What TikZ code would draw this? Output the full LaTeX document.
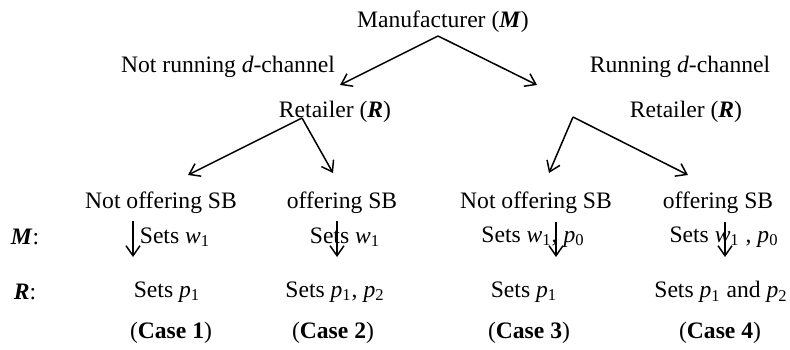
\documentclass[tikz,border=0pt]{standalone}
\usepackage{fontspec}
\setmainfont{Liberation Serif}
\usetikzlibrary{arrows.meta,positioning,calc}
\definecolor{dark}{HTML}{000000}
\newcommand{\vsub}[2]{\textit{#1}\textsubscript{#2}}
\newcommand{\bi}[1]{\textbf{\textit{#1}}}
\tikzset{
  lbl/.style={inner sep=0pt, font=\fontsize{11.8pt}{14pt}\selectfont, text=dark},
  arrow/.style={-{Straight Barb[length=5pt,width=7pt,line width=0.75pt]}, line width=0.75pt, draw=dark}
}

\begin{document}
\begin{tikzpicture}[x=0.5pt, y=-0.5pt]
  \useasboundingbox (0,0) rectangle (790,349);
  % decision makers and options
  \node[lbl] (man) at (443,22) {Manufacturer (\bi{M})};
  \node[lbl] (notrun) at (228,67) {Not running \textit{d}-channel};
  \node[lbl] (run) at (680,67) {Running \textit{d}-channel};
  \node[lbl] (retL) at (335,112) {Retailer (\bi{R})};
  \node[lbl] (retR) at (686,112) {Retailer (\bi{R})};
  \node[lbl] (sb1) at (161,203) {Not offering SB};
  \node[lbl] (sb2) at (342,203) {offering SB};
  \node[lbl] (sb3) at (536,203) {Not offering SB};
  \node[lbl] (sb4) at (718,203) {offering SB};
  % player labels
  \node[lbl] (mrow) at (25,237) {\bi{M}:};
  \node[lbl] (rrow) at (25,292) {\bi{R}:};
  % manufacturer moves
  \node[lbl] (m1) at (175,237) {Sets \vsub{w}{1}};
  \node[lbl] (m2) at (345,237) {Sets \vsub{w}{1}};
  \node[lbl] (m3) at (533,237) {Sets \vsub{w}{1}, \vsub{p}{0}};
  \node[lbl] (m4) at (724,237) {Sets \vsub{w}{1} , \vsub{p}{0}};
  % retailer moves
  \node[lbl] (r1) at (167,292) {Sets \vsub{p}{1}};
  \node[lbl] (r2) at (335,292) {Sets \vsub{p}{1}, \vsub{p}{2}};
  \node[lbl] (r3) at (524,292) {Sets \vsub{p}{1}};
  \node[lbl] (r4) at (721,292) {Sets \vsub{p}{1} and \vsub{p}{2}};
  % cases
  \node[lbl] (c1) at (171,333) {(\textbf{Case 1})};
  \node[lbl] (c2) at (333,333) {(\textbf{Case 2})};
  \node[lbl] (c3) at (529,333) {(\textbf{Case 3})};
  \node[lbl] (c4) at (720,333) {(\textbf{Case 4})};
  % fork points
  \coordinate (mfork) at (438,36);
  \coordinate (lfork) at (302,118);
  \coordinate (rfork) at (573,117);
  \coordinate (dL) at (340,85);
  \coordinate (dR) at (537,85);
  \draw[arrow] (mfork) -- (dL);
  \draw[arrow] (mfork) -- (dR);
  \draw[arrow] (lfork) -- (188,175);
  \draw[arrow] (lfork) -- (333,173);
  \draw[arrow] (rfork) -- (549,173);
  \draw[arrow] (rfork) -- (688,175);
  % stage arrows
  \foreach \x/\y in {133/221, 337/221, 556/222, 725/222}
    \draw[arrow] (\x,\y) -- (\x,257);
\end{tikzpicture}
\end{document}
